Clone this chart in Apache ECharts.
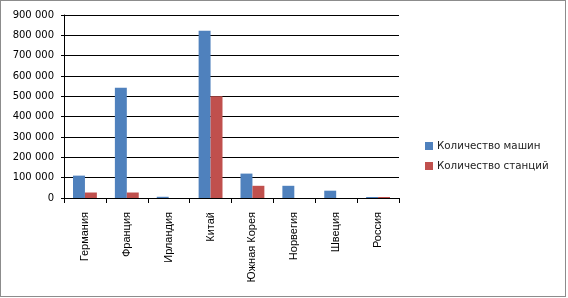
<!DOCTYPE html>
<html><head><meta charset="utf-8">
<script src="https://cdn.jsdelivr.net/npm/echarts@6/dist/echarts.min.js"></script>
<style>
html,body{margin:0;padding:0;background:#fff;}
#frame{position:absolute;left:0;top:0;width:564px;height:295px;border:1px solid #8c8c8c;}
#c{position:absolute;left:0;top:0;width:568px;height:298px;}
</style></head>
<body>
<div id="frame"></div>
<div id="c"></div>
<script>
var categories = ['Германия','Франция','Ирландия','Китай','Южная Корея','Норвегия','Швеция','Россия'];
var seriesNames = ['Количество машин','Количество станций'];
var cars = [110000, 542000, 6000, 823000, 120000, 60000, 36000, 5000];
var stations = [27000, 27000, 0, 500000, 60000, 0, 0, 5000];
var yTicks = [0,100000,200000,300000,400000,500000,600000,700000,800000,900000];

var chart = echarts.init(document.getElementById('c'));
chart.setOption({
  animation:false,
  grid:{left:64,right:169,top:15,bottom:100,containLabel:false},
  legend:{
    orient:'vertical', left:420, top:136, itemWidth:8, itemHeight:8, itemGap:10,
    icon:'rect',
    textStyle:{fontFamily:'DejaVu Sans',fontSize:10.3,color:'#222',padding:[0,0,0,-1]},
    data:seriesNames
  },
  xAxis:{
    type:'category', data:categories,
    axisLine:{lineStyle:{color:'#000',width:1}},
    axisTick:{show:true,length:5,lineStyle:{color:'#000'},alignWithLabel:false},
    axisLabel:{rotate:90,interval:0,margin:14,fontFamily:'Liberation Sans',fontSize:11,color:'#000'}
  },
  yAxis:{
    type:'value', min:0, max:900000, interval:100000,
    axisLine:{show:true,lineStyle:{color:'#000'}},
    axisTick:{show:true,length:3,lineStyle:{color:'#000'}},
    splitLine:{show:true,lineStyle:{color:'#000',width:1}},
    axisLabel:{margin:10,fontFamily:'DejaVu Sans',fontSize:10,color:'#000',
      formatter:function(v){return String(v).replace(/\B(?=(\d{3})+(?!\d))/g,' ');}}
  },
  series:[
    {name:seriesNames[0],type:'bar',data:cars,itemStyle:{color:'#4F81BD'},barGap:'0%',barCategoryGap:'43%'},
    {name:seriesNames[1],type:'bar',data:stations,itemStyle:{color:'#C0504D'},barGap:'0%',barCategoryGap:'43%'}
  ]
});
</script>
</body></html>
